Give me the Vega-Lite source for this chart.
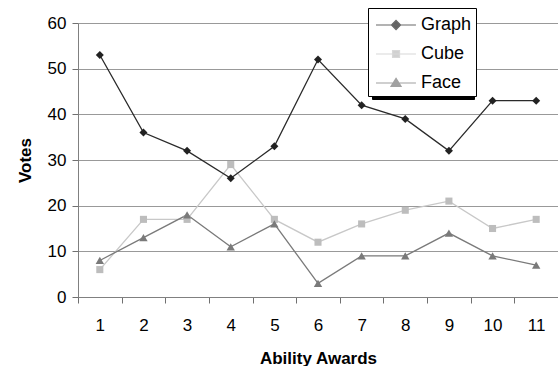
{
  "$schema": "https://vega.github.io/schema/vega-lite/v6.json",
  "width": 480,
  "height": 274,
  "autosize": "none",
  "padding": {"left": 78, "top": 23, "right": 0, "bottom": 69},
  "background": "white",
  "config": {
    "view": {"stroke": null},
    "font": "Liberation Sans",
    "axis": {"labelFont": "Liberation Sans", "titleFont": "Liberation Sans", "labelFontSize": 17, "titleFontSize": 17, "titleFontWeight": "bold", "labelColor": "#000", "titleColor": "#000", "domainColor": "#808080", "tickColor": "#707070", "gridColor": "#999999"}
  },
  "data": {"values": [
    {"award": 1, "series": "Graph", "votes": 53}, {"award": 2, "series": "Graph", "votes": 36}, {"award": 3, "series": "Graph", "votes": 32}, {"award": 4, "series": "Graph", "votes": 26}, {"award": 5, "series": "Graph", "votes": 33}, {"award": 6, "series": "Graph", "votes": 52}, {"award": 7, "series": "Graph", "votes": 42}, {"award": 8, "series": "Graph", "votes": 39}, {"award": 9, "series": "Graph", "votes": 32}, {"award": 10, "series": "Graph", "votes": 43}, {"award": 11, "series": "Graph", "votes": 43},
    {"award": 1, "series": "Cube", "votes": 6}, {"award": 2, "series": "Cube", "votes": 17}, {"award": 3, "series": "Cube", "votes": 17}, {"award": 4, "series": "Cube", "votes": 29}, {"award": 5, "series": "Cube", "votes": 17}, {"award": 6, "series": "Cube", "votes": 12}, {"award": 7, "series": "Cube", "votes": 16}, {"award": 8, "series": "Cube", "votes": 19}, {"award": 9, "series": "Cube", "votes": 21}, {"award": 10, "series": "Cube", "votes": 15}, {"award": 11, "series": "Cube", "votes": 17},
    {"award": 1, "series": "Face", "votes": 8}, {"award": 2, "series": "Face", "votes": 13}, {"award": 3, "series": "Face", "votes": 18}, {"award": 4, "series": "Face", "votes": 11}, {"award": 5, "series": "Face", "votes": 16}, {"award": 6, "series": "Face", "votes": 3}, {"award": 7, "series": "Face", "votes": 9}, {"award": 8, "series": "Face", "votes": 9}, {"award": 9, "series": "Face", "votes": 14}, {"award": 10, "series": "Face", "votes": 9}, {"award": 11, "series": "Face", "votes": 7}
  ]},
  "encoding": {
    "x": {"field": "award", "type": "ordinal", "scale": {"paddingInner": 0, "paddingOuter": 0}, "axis": {"title": "Ability Awards", "labelAngle": 0, "tickBand": "extent", "tickSize": 6, "labelPadding": 14, "titlePadding": 17, "grid": false}},
    "y": {"field": "votes", "type": "quantitative", "scale": {"domain": [0, 60], "nice": false}, "axis": {"title": "Votes", "values": [0, 10, 20, 30, 40, 50, 60], "tickSize": 6, "labelPadding": 6, "titlePadding": 13, "grid": true}}
  },
  "layer": [
    {"transform": [{"filter": "datum.series == 'Cube'"}], "mark": {"type": "line", "color": "#c8c8c8", "strokeWidth": 1.3}},
    {"transform": [{"filter": "datum.series == 'Face'"}], "mark": {"type": "line", "color": "#7a7a7a", "strokeWidth": 1.3}},
    {"transform": [{"filter": "datum.series == 'Graph'"}], "mark": {"type": "line", "color": "#2a2a2a", "strokeWidth": 1.3}},
    {"transform": [{"filter": "datum.series == 'Cube'"}], "mark": {"type": "point", "shape": "square", "filled": true, "size": 50, "color": "#bdbdbd", "opacity": 1}},
    {"transform": [{"filter": "datum.series == 'Face'"}], "mark": {"type": "point", "shape": "triangle-up", "filled": true, "size": 70, "color": "#7a7a7a", "opacity": 1}},
    {"transform": [{"filter": "datum.series == 'Graph'"}], "mark": {"type": "point", "shape": "diamond", "filled": true, "size": 64, "color": "#222222", "opacity": 1}},
    {
      "transform": [{"filter": "datum.votes < 0"}],
      "mark": {"type": "point", "filled": true, "strokeWidth": 1.2},
      "encoding": {
        "color": {"field": "series", "type": "nominal", "scale": {"domain": ["Graph", "Cube", "Face"], "range": ["#222222", "#bdbdbd", "#7a7a7a"]}},
        "stroke": {"field": "series", "type": "nominal", "scale": {"domain": ["Graph", "Cube", "Face"], "range": ["#2a2a2a", "#c8c8c8", "#7a7a7a"]}},
        "shape": {"field": "series", "type": "nominal", "scale": {"domain": ["Graph", "Cube", "Face"], "range": ["M-0.75,0L2.58,0M0.92,-0.38L1.3,0L0.92,0.38L0.54,0Z", "M-0.75,0L2.58,0M0.63,-0.29L1.21,-0.29L1.21,0.29L0.63,0.29Z", "M-0.75,0L2.58,0M0.92,-0.38L1.34,0.28L0.5,0.28Z"]},
          "legend": {"title": null, "orient": "none", "legendX": 290, "legendY": -15, "zindex": 2, "fillColor": "white", "strokeColor": "#000", "padding": 4, "symbolSize": 576, "labelFont": "Liberation Sans", "labelFontSize": 18, "labelColor": "#000", "labelOffset": 23, "rowPadding": 7, "symbolStrokeWidth": 1.2}},
        "opacity": {"field": "series", "type": "nominal", "scale": {"domain": ["Face", "Cube", "Graph"], "range": [1, 1, 1]},
          "legend": {"title": null, "orient": "none", "legendX": 294, "legendY": -12, "zindex": 1, "fillColor": "#000", "strokeColor": "#000", "padding": 4, "symbolSize": 576, "symbolType": "M-0.75,0L2.58,0M0.92,-0.38L1.3,0L0.92,0.38L0.54,0Z", "symbolFillColor": "#000", "symbolStrokeColor": "#000", "symbolStrokeWidth": 1.2, "labelExpr": "' '", "labelFont": "Liberation Sans", "labelFontSize": 18, "labelColor": "#000", "labelOffset": 68, "rowPadding": 7}}
      }
    }
  ]
}
